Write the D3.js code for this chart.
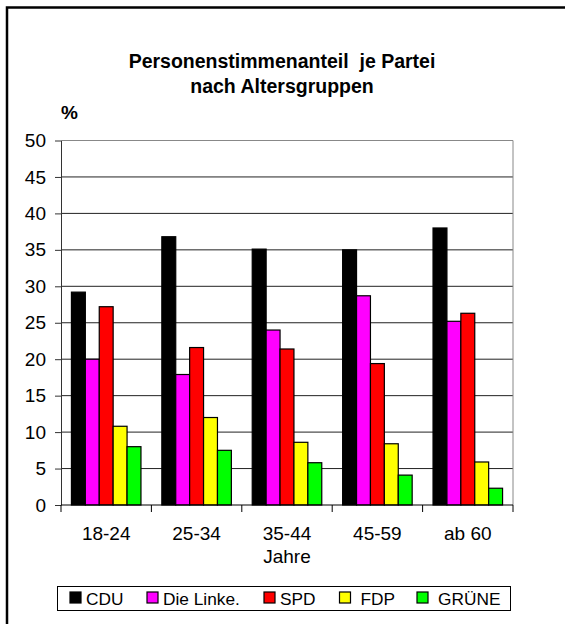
<!DOCTYPE html>
<html>
<head>
<meta charset="utf-8">
<script src="https://cdn.jsdelivr.net/npm/d3@7"></script>
<style>
  body { margin: 0; background: #fff; }
  svg { display: block; font-family: "Liberation Sans", Arial, sans-serif; }
</style>
</head>
<body>
<svg id="chart" width="565" height="624"></svg>
<script>
const groups = ["18-24", "25-34", "35-44", "45-59", "ab 60"];
const parties = ["CDU", "Die Linke.", "SPD", "FDP", "GRÜNE"];
const colors = ["#000000", "#ff00ff", "#ff0000", "#ffff00", "#00ff00"];
const cdu = [29.2, 36.8, 35.1, 35.0, 38.0];
const linke = [20.0, 17.9, 24.0, 28.7, 25.2];
const spd = [27.2, 21.6, 21.4, 19.4, 26.3];
const fdp = [10.8, 12.0, 8.6, 8.4, 5.9];
const gruene = [8.0, 7.5, 5.8, 4.1, 2.3];
const yTicks = [0, 5, 10, 15, 20, 25, 30, 35, 40, 45, 50];

const series = [cdu, linke, spd, fdp, gruene];

const svg = d3.select("#chart");
const margin = { top: 140.5, right: 52, bottom: 119, left: 61 };
const width = 565 - margin.left - margin.right;
const height = 624 - margin.top - margin.bottom;

// outer frame (only top and left visible)
svg.append("path")
  .attr("d", "M7,624 V7.5 H565")
  .attr("fill", "none")
  .attr("stroke", "#000")
  .attr("stroke-width", 2.5);

// title
const title = svg.append("text")
  .attr("text-anchor", "middle")
  .attr("font-weight", "bold")
  .attr("font-size", 19.5)
  .style("white-space", "pre")
  .attr("fill", "#000");
title.append("tspan").attr("x", 282).attr("y", 68).text("Personenstimmenanteil  je Partei");
title.append("tspan").attr("x", 282).attr("y", 93).text("nach Altersgruppen");

svg.append("text")
  .attr("x", 61)
  .attr("y", 118.5)
  .attr("font-weight", "bold")
  .attr("font-size", 19)
  .text("%");

const g = svg.append("g").attr("transform", `translate(${margin.left},${margin.top})`);

// Excel style: gap = 1.5 bar widths, split half on each side of the group
const x0 = d3.scaleBand().domain(groups).range([0, width]).padding(0);
const groupW = x0.bandwidth() * 5 / 6.5;
const x1 = d3.scaleBand().domain(d3.range(parties.length)).range([0, groupW]);
const y = d3.scaleLinear().domain([0, 50]).range([height, 0]);

// gridlines
g.append("g")
  .selectAll("line")
  .data(yTicks.filter(d => d > 0))
  .enter()
  .append("line")
  .attr("x1", 0)
  .attr("x2", width)
  .attr("y1", d => y(d))
  .attr("y2", d => y(d))
  .attr("stroke", d => (d === 50 ? "#888" : "#222"))
  .attr("stroke-width", 1);

// plot right border
g.append("line")
  .attr("x1", width).attr("x2", width)
  .attr("y1", 0).attr("y2", height)
  .attr("stroke", "#888");

// bars
const data = [];
groups.forEach((grp, gi) => {
  series.forEach((s, si) => data.push({ grp: grp, si: si, v: s[gi] }));
});

g.selectAll(".bar")
  .data(data)
  .enter()
  .append("rect")
  .attr("class", "bar")
  .attr("x", d => x0(d.grp) + (x0.bandwidth() - groupW) / 2 + x1(d.si))
  .attr("y", d => y(d.v))
  .attr("width", x1.bandwidth())
  .attr("height", d => height - y(d.v))
  .attr("fill", d => colors[d.si])
  .attr("stroke", "#000")
  .attr("stroke-width", 1.2);

// y axis
const yAxis = g.append("g")
  .call(d3.axisLeft(y).tickValues(yTicks).tickSizeInner(6).tickSizeOuter(0).tickPadding(9));
yAxis.selectAll("text").attr("font-size", 19).attr("fill", "#000").attr("font-family", "Liberation Sans, Arial, sans-serif");
yAxis.selectAll("line, path").attr("stroke", "#333");

// x axis: ticks on category boundaries
const xAxis = g.append("g").attr("transform", `translate(0,${height})`);
xAxis.append("line").attr("x1", 0).attr("x2", width).attr("stroke", "#000");
xAxis.selectAll(".tk")
  .data(groups.concat(["end"]))
  .enter()
  .append("line")
  .attr("x1", (d, i) => i * x0.step())
  .attr("x2", (d, i) => i * x0.step())
  .attr("y1", 0)
  .attr("y2", 7)
  .attr("stroke", "#000");
xAxis.selectAll(".lbl")
  .data(groups)
  .enter()
  .append("text")
  .attr("x", d => x0(d) + x0.bandwidth() / 2)
  .attr("y", 35)
  .attr("text-anchor", "middle")
  .attr("font-size", 19)
  .text(d => d);
xAxis.append("text")
  .attr("x", width / 2)
  .attr("y", 57.5)
  .attr("text-anchor", "middle")
  .attr("font-size", 19)
  .text("Jahre");

// legend
const legend = svg.append("g");
legend.append("rect")
  .attr("x", 57.5).attr("y", 586.5)
  .attr("width", 453).attr("height", 24)
  .attr("fill", "#fff").attr("stroke", "#000");
const legendX = [70, 147, 264, 339.5, 417];
const items = legend.selectAll(".item")
  .data(parties)
  .enter()
  .append("g")
  .attr("transform", (d, i) => `translate(${legendX[i]},592)`);
items.append("rect")
  .attr("width", 11).attr("height", 11)
  .attr("fill", (d, i) => colors[i])
  .attr("stroke", "#000")
  .attr("stroke-width", 1.2);
items.append("text")
  .attr("x", (d, i) => (i >= 3 ? 21 : 16))
  .attr("y", 13)
  .attr("font-size", 17.3)
  .text(d => d);
</script>
</body>
</html>
